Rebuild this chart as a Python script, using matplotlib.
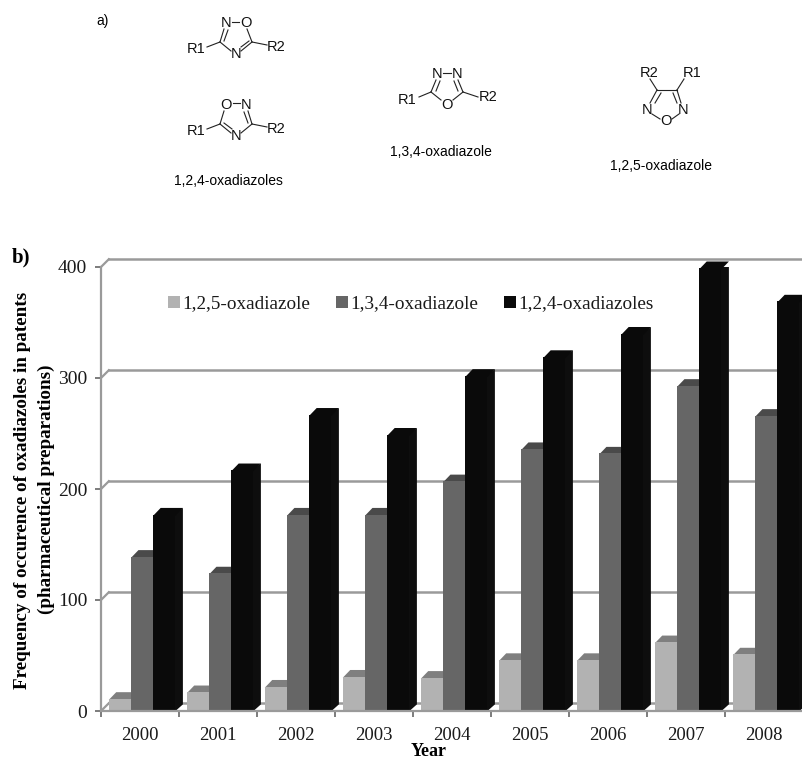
import numpy as np
import matplotlib
matplotlib.use('Agg')
import matplotlib.pyplot as plt
from matplotlib.patches import Polygon, Patch

W, H = 802, 761

years = ['2000', '2001', '2002', '2003', '2004', '2005', '2006', '2007', '2008']
names = ['1,2,5-oxadiazole', '1,3,4-oxadiazole', '1,2,4-oxadiazoles']
v125 = [11, 17, 22, 31, 30, 46, 46, 62, 51]
v134 = [139, 124, 177, 177, 207, 236, 232, 293, 266]
v124 = [177, 217, 267, 249, 302, 319, 340, 399, 369]
yticks = [0, 100, 200, 300, 400]

# front, top and side colours of the fake 3D bars
face = ['#b2b2b2', '#666666', '#0a0a0a']
top = ['#7f7f7f', '#4a4a4a', '#0a0a0a']
side = ['#8c8c8c', '#565656', '#0e0e0e']
grid = '#9a9a9a'

fig = plt.figure(figsize=(W / 100, H / 100), dpi=100)
serif = 'Liberation Serif'
sans = 'Liberation Sans'

# chart axes: x=101..803 px, y=711..267 px
ax = fig.add_axes([101 / W, 1 - 711 / H, 702 / W, 444 / H])
ax.set_xlim(0, 9)
ax.set_ylim(0, 400)
ax.patch.set_alpha(0)

dx = 0.1      # depth of the box, in categories
dy = 7        # depth of the box, in value units
bw = 0.285
x0 = 0.1

# back wall lines
for t in yticks:
    ax.plot([0, dx], [t, t + dy], color=grid, lw=1.6, clip_on=False, zorder=1)
    ax.plot([dx, 9], [t + dy, t + dy], color=grid, lw=1.8, clip_on=False, zorder=1)

for i, vals in enumerate([v125, v134, v124]):
    xs = np.arange(9) + x0 + i * bw
    d = dx * 0.95
    h = dy * 0.85
    for xb, v in zip(xs, vals):
        # side and top go under the front face so no seam shows
        ax.add_patch(Polygon([(xb + bw - 0.02, 0), (xb + bw, 0), (xb + bw + d, h), (xb + bw + d, v + h), (xb + bw - 0.02, v)],
                             closed=True, fc=side[i], ec='none', zorder=3 + i, clip_on=True))
        ax.add_patch(Polygon([(xb, v - 1), (xb + bw, v - 1), (xb + bw + d, v + h), (xb + d, v + h)],
                             closed=True, fc=top[i], ec='none', zorder=3 + i, clip_on=False))
    ax.bar(xs, vals, width=bw, align='edge', color=face[i], zorder=3.5 + i, clip_on=False)

for s in ['top', 'right']:
    ax.spines[s].set_visible(False)
for s in ['left', 'bottom']:
    ax.spines[s].set_color(grid)
    ax.spines[s].set_linewidth(1.6)
    ax.spines[s].set_zorder(10)

ax.set_yticks(yticks)
ax.set_xticks(np.arange(10))
ax.set_xticklabels([])
ax.tick_params(axis='both', color='#666666', width=1.2, length=4)
ax.tick_params(axis='y', labelsize=14, pad=6, labelcolor='#1a1a1a')
for label in ax.get_yticklabels():
    label.set_fontfamily(serif)
for i, y in enumerate(years):
    ax.text(i + 0.5, -22, y, ha='center', va='center', family=serif, fontsize=13.5,
            color='#1a1a1a', clip_on=False)

handles = [Patch(fc=c, ec='none') for c in face]
leg = ax.legend(handles, names, ncol=3, frameon=False, loc='center left',
                bbox_to_anchor=(0.082, 0.917), prop={'family': serif, 'size': 13.8},
                borderpad=0, handlelength=0.6, handleheight=0.6, handletextpad=0.15,
                columnspacing=1.35, labelcolor='#1a1a1a')
leg.set_zorder(20)

# overlay in pixel coordinates for the labels and the structures of part a)
ov = fig.add_axes([0, 0, 1, 1])
ov.set_xlim(0, W)
ov.set_ylim(H, 0)
ov.axis('off')
ov.patch.set_alpha(0)

ov.text(21, 257, 'b)', family=serif, weight='bold', fontsize=15, ha='center', va='center')
ov.text(23, 490, 'Frequency of occurence of oxadiazoles in patents', family=serif, weight='bold',
        fontsize=13.8, rotation=90, ha='center', va='center')
ov.text(46, 489, '(pharmaceutical preparations)', family=serif, weight='bold',
        fontsize=13.8, rotation=90, ha='center', va='center')
ov.text(429, 760.5, 'Year', family=serif, weight='bold', fontsize=13, ha='center', va='bottom')

ov.text(103, 21, 'a)', family=sans, fontsize=10, ha='center', va='center')
ov.text(228, 181, names[2], family=sans, fontsize=10, ha='center', va='center')
ov.text(441, 152, names[1], family=sans, fontsize=10, ha='center', va='center')
ov.text(661, 166, names[0], family=sans, fontsize=10, ha='center', va='center')


def atoms(items):
    for x, y, s in items:
        ov.text(x, y, s, family=sans, fontsize=10.5, ha='center', va='center', color='#111111')


def bonds(items):
    for x1, y1, x2, y2 in items:
        ov.plot([x1, x2], [y1, y2], color='#222222', lw=0.8)


atoms([(226, 23, 'N'), (246, 23, 'O'), (236, 54, 'N'), (196, 49, 'R1'), (276, 47, 'R2')])
bonds([(232, 22, 239, 22), (224, 29, 220, 42), (228, 30, 224, 41), (220, 42, 231, 51),
       (241, 51, 252, 42), (241, 47, 249, 41), (247, 29, 252, 42), (207, 47, 220, 42), (252, 42, 267, 45)])

atoms([(226, 105, 'O'), (246, 105, 'N'), (236, 136, 'N'), (196, 131, 'R1'), (276, 129, 'R2')])
bonds([(233, 103, 240, 103), (224, 111, 220, 124), (248, 111, 252, 124), (244, 112, 248, 123),
       (220, 124, 231, 133), (224, 123, 232, 129), (241, 133, 252, 124), (207, 129, 220, 124), (252, 124, 267, 127)])

atoms([(437, 74, 'N'), (457, 74, 'N'), (447, 105, 'O'), (407, 100, 'R1'), (488, 97, 'R2')])
bonds([(443, 73, 451, 73), (436, 80, 431, 92), (440, 81, 436, 91), (458, 80, 463, 92), (454, 81, 458, 91),
       (431, 92, 441, 100), (463, 92, 453, 100), (419, 97, 431, 92), (463, 92, 478, 97)])

atoms([(649, 73, 'R2'), (692, 73, 'R1'), (647, 110, 'N'), (683, 110, 'N'), (666, 121, 'O')])
bonds([(657, 90, 677, 90), (657, 90, 650, 103), (661, 93, 655, 103), (677, 90, 681, 103), (673, 93, 677, 103),
       (652, 114, 660, 119), (679, 114, 672, 119), (650, 79, 657, 90), (684, 79, 677, 90)])

fig.savefig('out.png', dpi=100)
